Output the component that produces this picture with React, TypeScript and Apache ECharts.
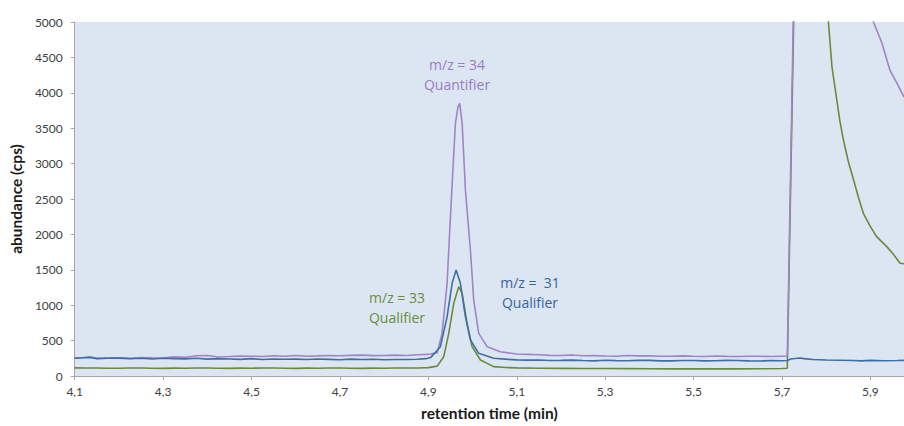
import React, { useEffect, useRef } from "react";
import * as echarts from "echarts";

// m/z = 34 (Quantifier) – [retention time (min), abundance (cps)]
const mz34: [number, number][] = [
  [4.1, 255], [4.12, 262], [4.135, 270], [4.15, 250], [4.175, 255], [4.2, 258], [4.225, 248],
  [4.25, 262], [4.275, 258], [4.3, 255], [4.325, 270], [4.35, 265], [4.375, 285], [4.4, 290],
  [4.425, 268], [4.45, 275], [4.475, 283], [4.5, 280], [4.525, 275], [4.55, 285], [4.575, 278],
  [4.6, 290], [4.625, 280], [4.65, 284], [4.675, 290], [4.7, 285], [4.725, 292], [4.75, 295],
  [4.775, 288], [4.8, 290], [4.825, 295], [4.85, 290], [4.875, 300], [4.895, 305], [4.905, 310],
  [4.92, 330], [4.931, 603], [4.9424, 1309], [4.9461, 1780], [4.9537, 2700], [4.9612, 3573],
  [4.967, 3800], [4.9709, 3852], [4.9764, 3573], [4.9838, 2627], [4.9951, 1780], [5.0026, 1073],
  [5.0139, 603], [5.0329, 414], [5.0629, 343], [5.1, 310], [5.125, 305], [5.15, 300], [5.175, 292],
  [5.2, 290], [5.225, 296], [5.25, 285], [5.275, 288], [5.3, 282], [5.325, 280], [5.35, 290],
  [5.375, 284], [5.4, 285], [5.425, 278], [5.45, 280], [5.475, 284], [5.5, 278], [5.525, 276],
  [5.55, 282], [5.575, 277], [5.6, 275], [5.625, 280], [5.65, 278], [5.675, 276], [5.7, 280],
  [5.712, 282], [5.726, 5200], [5.75, 12000], [5.8, 9000], [5.84, 7200], [5.87, 6100],
  [5.89, 5450], [5.907, 5000], [5.926, 4703], [5.944, 4322], [5.96, 4138], [5.976, 3940],
];

// m/z = 33 (Qualifier)
const mz33: [number, number][] = [
  [4.1, 115], [4.125, 112], [4.15, 112], [4.175, 110], [4.2, 110], [4.225, 113], [4.25, 112],
  [4.275, 109], [4.3, 108], [4.325, 111], [4.35, 110], [4.375, 113], [4.4, 112], [4.425, 109],
  [4.45, 108], [4.475, 111], [4.5, 110], [4.525, 113], [4.55, 112], [4.575, 109], [4.6, 108],
  [4.625, 111], [4.65, 110], [4.675, 112], [4.7, 112], [4.725, 109], [4.75, 108], [4.775, 111],
  [4.8, 110], [4.825, 113], [4.85, 112], [4.875, 114], [4.9, 118], [4.92, 140], [4.9348, 273],
  [4.9461, 603], [4.9574, 1027], [4.9687, 1261], [4.9764, 1168], [4.9876, 744], [4.9989, 414],
  [5.0177, 226], [5.0478, 132], [5.075, 120], [5.1, 115], [5.15, 110], [5.2, 108], [5.25, 106],
  [5.3, 105], [5.35, 104], [5.4, 102], [5.45, 101], [5.5, 100], [5.55, 101], [5.6, 100],
  [5.65, 102], [5.7, 105], [5.712, 110], [5.727, 5200], [5.75, 11000], [5.77, 7500],
  [5.79, 5800], [5.805, 5000], [5.813, 4369], [5.824, 3898], [5.831, 3600], [5.839, 3333],
  [5.85, 3030], [5.862, 2768], [5.873, 2520], [5.884, 2298], [5.9, 2110], [5.914, 1968],
  [5.937, 1827], [5.952, 1720], [5.967, 1592], [5.976, 1585],
];

// m/z = 31 (Qualifier)
const mz31: [number, number][] = [
  [4.1, 250], [4.12, 258], [4.135, 262], [4.15, 245], [4.175, 250], [4.2, 252], [4.225, 245],
  [4.25, 250], [4.275, 240], [4.3, 250], [4.325, 245], [4.35, 242], [4.375, 250], [4.4, 238],
  [4.425, 245], [4.45, 240], [4.475, 235], [4.5, 245], [4.525, 232], [4.55, 240], [4.575, 236],
  [4.6, 238], [4.625, 232], [4.65, 240], [4.675, 235], [4.7, 230], [4.725, 238], [4.75, 232],
  [4.775, 236], [4.8, 230], [4.825, 234], [4.85, 232], [4.875, 236], [4.895, 245], [4.905, 260],
  [4.9273, 414], [4.9424, 838], [4.9537, 1309], [4.9628, 1497], [4.9725, 1309], [4.9838, 838],
  [4.9951, 508], [5.0139, 320], [5.0478, 250], [5.08, 235], [5.1, 228], [5.125, 224], [5.15, 225],
  [5.175, 219], [5.2, 220], [5.225, 224], [5.25, 218], [5.275, 214], [5.3, 222], [5.325, 217],
  [5.35, 215], [5.375, 221], [5.4, 220], [5.425, 214], [5.45, 213], [5.475, 219], [5.5, 218],
  [5.525, 214], [5.55, 215], [5.575, 220], [5.6, 218], [5.625, 213], [5.65, 212], [5.675, 217],
  [5.7, 215], [5.712, 220], [5.72, 240], [5.73, 248], [5.741, 255], [5.75, 245], [5.77, 232],
  [5.8, 225], [5.83, 222], [5.86, 218], [5.88, 214], [5.9, 220], [5.93, 215], [5.96, 218],
  [5.976, 220],
];

const xTicks = [4.1, 4.3, 4.5, 4.7, 4.9, 5.1, 5.3, 5.5, 5.7, 5.9];

const annotations = [
  { lines: ["m/z = 34", "Quantifier"], x: 457, y: 64, color: "#9a7cc0" },
  { lines: ["m/z = 33", "Qualifier"], x: 397, y: 297, color: "#6b8c3b" },
  { lines: ["m/z =  31", "Qualifier"], x: 530, y: 282, color: "#35659c" },
];

export default function App() {
  const ref = useRef<HTMLDivElement>(null);
  useEffect(() => {
    if (!ref.current) return;
    const chart = echarts.init(ref.current, undefined, { renderer: "svg" });
    const font = "Lato";
    const axisLine = { show: true, lineStyle: { color: "#a6a6a6", width: 1 } };
    const lineSeries = (name: string, data: [number, number][], color: string) => ({
      name,
      type: "line",
      data,
      showSymbol: false,
      symbol: "none",
      clip: true,
      lineStyle: { color, width: 1.6 },
      itemStyle: { color },
    });
    chart.setOption({
      animation: false,
      textStyle: { fontFamily: font },
      grid: {
        left: 73, top: 22, right: 0, bottom: 50,
        show: true, backgroundColor: "#dce6f2", borderWidth: 0,
      },
      xAxis: {
        type: "value",
        min: 4.1,
        max: 5.976,
        name: "retention time (min)",
        nameLocation: "middle",
        nameGap: 29,
        nameTextStyle: { fontFamily: font, fontWeight: "bold", fontSize: 15.5, color: "#1a1a1a" },
        axisLine,
        axisTick: { show: true, length: 4, inside: false, lineStyle: { color: "#a6a6a6" }, customValues: xTicks },
        axisLabel: {
          customValues: xTicks,
          fontFamily: font, fontSize: 12, color: "#404040", margin: 9,
          formatter: (v: number) => v.toFixed(1).replace(".", ","),
        },
        splitLine: { show: false },
      },
      yAxis: {
        type: "value",
        min: 0,
        max: 5000,
        interval: 500,
        name: "abundance (cps)",
        nameLocation: "middle",
        nameGap: 46,
        nameRotate: 90,
        nameTextStyle: { fontFamily: font, fontWeight: "bold", fontSize: 15.5, color: "#1a1a1a" },
        axisLine,
        axisTick: { show: true, length: 4, lineStyle: { color: "#a6a6a6" } },
        axisLabel: {
          fontFamily: font, fontSize: 12, color: "#404040", margin: 12,
          formatter: (v: number) => String(v),
        },
        splitLine: { show: false },
      },
      series: [
        lineSeries("m/z = 33", mz33, "#6a8b3a"),
        lineSeries("m/z = 34", mz34, "#9f84c6"),
        lineSeries("m/z = 31", mz31, "#3d6fa6"),
      ],
      graphic: annotations.flatMap((a) =>
        a.lines.map((t, i) => ({
          type: "text",
          x: a.x,
          y: a.y + i * 20,
          style: {
            text: t,
            fill: a.color,
            font: `14px "Open Sans"`,
            textAlign: "center",
            textVerticalAlign: "middle",
          },
        }))
      ),
    });
    return () => chart.dispose();
  }, []);
  return (
    <div
      ref={ref}
      style={{ position: "fixed", left: 0, top: 0, width: 904, height: 426, background: "#fff" }}
    />
  );
}
